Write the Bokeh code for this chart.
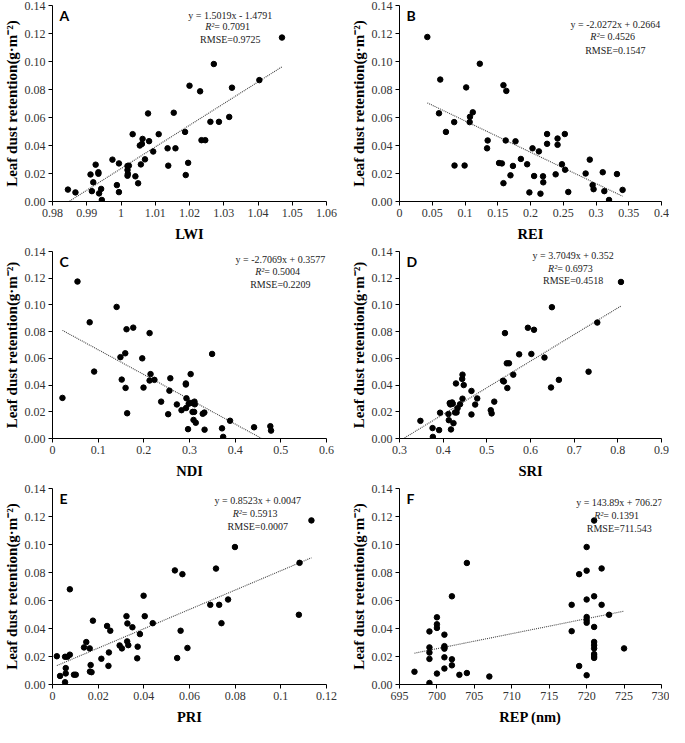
import numpy as np
from bokeh.plotting import figure
from bokeh.layouts import column, row
from bokeh.models import FixedTicker, Range1d, Label
from bokeh.embed import file_html
from bokeh.resources import INLINE

# ---------------- data ----------------
Y_TICKS = [0.0, 0.02, 0.04, 0.06, 0.08, 0.10, 0.12, 0.14]
Y_LABELS = ["0.00", "0.02", "0.04", "0.06", "0.08", "0.10", "0.12", "0.14"]
Y_TITLE = "Leaf dust retention(g\u00b7m\u207b\u00b2)"

lwi_x = [0.9845, 0.9867, 0.9911, 0.9915, 0.9919, 0.9926, 0.9934, 0.9934, 0.9936, 0.9942,
         0.9944, 0.9975, 0.9988, 0.9994, 0.9994, 1.0019, 1.0023, 1.0019, 1.0020, 1.0019,
         1.0034, 1.0042, 1.0050, 1.0055, 1.0058, 1.0061, 1.0063, 1.0070, 1.0079, 1.0082,
         1.0094, 1.0110, 1.0136, 1.0138, 1.0154, 1.0159, 1.0187, 1.0189, 1.0196, 1.0200,
         1.0231, 1.0235, 1.0246, 1.0261, 1.0271, 1.0286, 1.0316, 1.0324, 1.0404, 1.0470]
lwi_y = [0.0085, 0.0065, 0.0193, 0.0074, 0.0137, 0.0263, 0.0209, 0.0198, 0.0058, 0.0090,
         0.0011, 0.0299, 0.0117, 0.0272, 0.0067, 0.0254, 0.0256, 0.0225, 0.0198, 0.0184,
         0.0481, 0.0180, 0.0130, 0.0400, 0.0265, 0.0411, 0.0447, 0.0301, 0.0629, 0.0431,
         0.0357, 0.0481, 0.0380, 0.0256, 0.0634, 0.0380, 0.0497, 0.0189, 0.0276, 0.0827,
         0.0787, 0.0438, 0.0438, 0.0569, 0.0982, 0.0569, 0.0604, 0.0813, 0.0867, 0.1171]
lwi_ticks = [0.98, 0.99, 1.0, 1.01, 1.02, 1.03, 1.04, 1.05, 1.06]
lwi_labels = ["0.98", "0.99", "1", "1.01", "1.02", "1.03", "1.04", "1.05", "1.06"]

rei_x = [0.0425, 0.0622, 0.0603, 0.0709, 0.0835, 0.0840, 0.1018, 0.0994, 0.1076, 0.1071,
         0.1119, 0.1226, 0.1337, 0.1346, 0.1520, 0.1563, 0.1587, 0.1587, 0.1631, 0.1621,
         0.1694, 0.1732, 0.1771, 0.1853, 0.1949, 0.1983, 0.2031, 0.2055, 0.2128, 0.2152,
         0.2191, 0.2195, 0.2253, 0.2253, 0.2384, 0.2413, 0.2413, 0.2480, 0.2524, 0.2528,
         0.2577, 0.2842, 0.2905, 0.2948, 0.2963, 0.3103, 0.3127, 0.3199, 0.3320, 0.3406]
rei_y = [0.1175, 0.0871, 0.0630, 0.0497, 0.0567, 0.0257, 0.0815, 0.0257, 0.0605, 0.0567,
         0.0637, 0.0984, 0.0380, 0.0436, 0.0275, 0.0272, 0.0131, 0.0831, 0.0790, 0.0436,
         0.0187, 0.0254, 0.0430, 0.0304, 0.0266, 0.0065, 0.0380, 0.0182, 0.0358, 0.0056,
         0.0180, 0.0137, 0.0482, 0.0412, 0.0194, 0.0450, 0.0405, 0.0266, 0.0482, 0.0227,
         0.0068, 0.0200, 0.0299, 0.0117, 0.0088, 0.0209, 0.0074, 0.0011, 0.0196, 0.0083]
rei_ticks = [0.0, 0.05, 0.1, 0.15, 0.2, 0.25, 0.3, 0.35, 0.4]
rei_labels = ["0", "0.05", "0.1", "0.15", "0.2", "0.25", "0.3", "0.35", "0.4"]

ndi_x = [0.0218, 0.0547, 0.0814, 0.0912, 0.1404, 0.1488, 0.1516, 0.1593, 0.1600, 0.1621,
         0.1635, 0.1768, 0.1965, 0.1993, 0.2126, 0.2126, 0.2147, 0.2232, 0.2379, 0.2580,
         0.2560, 0.2533, 0.2723, 0.2825, 0.2920, 0.2920, 0.2933, 0.2925, 0.2968, 0.2982,
         0.3025, 0.3011, 0.3081, 0.3109, 0.3116, 0.3067, 0.3102, 0.3088, 0.3137, 0.3290,
         0.3325, 0.3330, 0.3495, 0.3712, 0.3737, 0.3888, 0.4414, 0.4770, 0.4786]
ndi_y = [0.0304, 0.1175, 0.0870, 0.0501, 0.0985, 0.0609, 0.0441, 0.0638, 0.0379, 0.0818,
         0.0189, 0.0830, 0.0600, 0.0381, 0.0789, 0.0434, 0.0482, 0.0439, 0.0276, 0.0451,
         0.0358, 0.0182, 0.0255, 0.0212, 0.0412, 0.0404, 0.0301, 0.0228, 0.0070, 0.0260,
         0.0482, 0.0266, 0.0264, 0.0276, 0.0256, 0.0199, 0.0199, 0.0139, 0.0118, 0.0185,
         0.0194, 0.0066, 0.0633, 0.0076, 0.0012, 0.0133, 0.0084, 0.0092, 0.0059]
ndi_ticks = [0.0, 0.1, 0.2, 0.3, 0.4, 0.5, 0.6]
ndi_labels = ["0", "0.1", "0.2", "0.3", "0.4", "0.5", "0.6"]

sri_x = [0.3479, 0.3757, 0.3764, 0.3907, 0.3929, 0.4121, 0.4129, 0.4150, 0.4165, 0.4179,
         0.4205, 0.4220, 0.4236, 0.4271, 0.4307, 0.4293, 0.4329, 0.4386, 0.4443, 0.4436,
         0.4471, 0.4443, 0.4648, 0.4648, 0.4780, 0.4733, 0.5090, 0.5110, 0.5170, 0.5370,
         0.5390, 0.5457, 0.5507, 0.5470, 0.5605, 0.5415, 0.5740, 0.5940, 0.6020, 0.6080,
         0.6320, 0.6470, 0.6490, 0.6650, 0.7330, 0.7529, 0.8072]
sri_y = [0.0132, 0.0078, 0.0012, 0.0063, 0.0193, 0.0183, 0.0137, 0.0265, 0.0255, 0.0068,
         0.0270, 0.0260, 0.0115, 0.0195, 0.0195, 0.0412, 0.0227, 0.0256, 0.0478, 0.0446,
         0.0400, 0.0298, 0.0356, 0.0180, 0.0300, 0.0254, 0.0212, 0.0188, 0.0276, 0.0432,
         0.0427, 0.0563, 0.0563, 0.0378, 0.0478, 0.0789, 0.0630, 0.0829, 0.0633, 0.0814,
         0.0606, 0.0382, 0.0983, 0.0439, 0.0500, 0.0868, 0.1172]
sri_ticks = [0.3, 0.4, 0.5, 0.6, 0.7, 0.8, 0.9]
sri_labels = ["0.3", "0.4", "0.5", "0.6", "0.7", "0.8", "0.9"]

pri_x = [0.0019, 0.0033, 0.0055, 0.0065, 0.0076, 0.0055, 0.0058, 0.0058, 0.0076, 0.0094,
         0.0102, 0.0138, 0.0148, 0.0163, 0.0167, 0.0164, 0.0171, 0.0177, 0.0214, 0.0239,
         0.0245, 0.0247, 0.0253, 0.0294, 0.0304, 0.0324, 0.0328, 0.0327, 0.0332, 0.0350,
         0.0371, 0.0373, 0.0383, 0.0399, 0.0404, 0.0439, 0.0536, 0.0546, 0.0561, 0.0569,
         0.0591, 0.0691, 0.0716, 0.0730, 0.0740, 0.0769, 0.0799, 0.1079, 0.1082, 0.1134]
pri_y = [0.0202, 0.0061, 0.0198, 0.0198, 0.0213, 0.0016, 0.0079, 0.0117, 0.0680, 0.0070,
         0.0070, 0.0265, 0.0303, 0.0258, 0.0139, 0.0092, 0.0088, 0.0456, 0.0184, 0.0418,
         0.0133, 0.0229, 0.0384, 0.0279, 0.0258, 0.0488, 0.0436, 0.0308, 0.0281, 0.0409,
         0.0187, 0.0270, 0.0360, 0.0634, 0.0488, 0.0438, 0.0815, 0.0189, 0.0384, 0.0788,
         0.0261, 0.0569, 0.0828, 0.0569, 0.0438, 0.0607, 0.0982, 0.0498, 0.0869, 0.1172]
pri_ticks = [0.0, 0.02, 0.04, 0.06, 0.08, 0.1, 0.12]
pri_labels = ["0", "0.02", "0.04", "0.06", "0.08", "0.1", "0.12"]

rep_x = [697, 699, 699, 699, 699, 699, 700, 700, 700, 700, 701, 701, 701, 701, 701, 701,
         702, 702, 702, 703, 704, 704, 707, 718, 718, 719, 719, 720, 720, 720, 720, 720,
         720, 720, 721, 721, 721, 721, 721, 721, 721, 721, 721, 722, 722, 723, 725]
rep_y = [0.0091, 0.0379, 0.0265, 0.0228, 0.0183, 0.0011, 0.0480, 0.0430, 0.0404, 0.0078,
         0.0356, 0.0274, 0.0265, 0.0256, 0.0194, 0.0114, 0.0630, 0.0180, 0.0137, 0.0069,
         0.0868, 0.0082, 0.0057, 0.0569, 0.0381, 0.0788, 0.0132, 0.0982, 0.0813, 0.0607,
         0.0482, 0.0459, 0.0441, 0.0066, 0.1171, 0.0630, 0.0411, 0.0304, 0.0281, 0.0258,
         0.0217, 0.0203, 0.0190, 0.0829, 0.0569, 0.0498, 0.0258]
rep_ticks = [695, 700, 705, 710, 715, 720, 725, 730]
rep_labels = ["695", "700", "705", "710", "715", "720", "725", "730"]

letters = ["A", "B", "C", "D", "E", "F"]
x_titles = ["LWI", "REI", "NDI", "SRI", "PRI", "REP (nm)"]
eq_lines = [
    ("y = 1.5019x - 1.4791", " = 0.7091", "RMSE=0.9725"),
    ("y = -2.0272x + 0.2664", " = 0.4526", "RMSE=0.1547"),
    ("y = -2.7069x + 0.3577", " = 0.5004", "RMSE=0.2209"),
    ("y = 3.7049x + 0.352", " = 0.6973", "RMSE=0.4518"),
    ("y = 0.8523x + 0.0047", " = 0.5913", "RMSE=0.0007"),
    ("y = 143.89x + 706.27", " = 0.1391", "RMSE=711.543"),
]
# trendline drawn back to the axis (Excel backward forecast) for panel D
trend_to_axis = [False, False, False, True, False, False]

# ---------------- layout / style ----------------
SERIF = "Liberation Serif"
LW, RW = 347, 322
BL = 47
ROWS = [(244, 5), (237, 7), (246, 7)]   # (figure height, top border)
BB = 38

# (equation centre: px left of frame right edge, line offsets from frame top in px)
eq_pos = [(98, [10, 22, 35]), (47, [19, 32, 46]), (47, [8, 21, 34]),
          (90, [4, 17, 30]), (70, [12, 26, 39]), (43, [14, 28, 41])]


def make_panel(i, xs, ys, ticks, labels, width, rowspec, br):
    height, bt = rowspec
    xr = (ticks[0], ticks[-1])
    p = figure(width=width, height=height, x_range=Range1d(*xr), y_range=Range1d(0, 0.14),
               output_backend="svg", toolbar_location=None,
               min_border_left=BL, min_border_right=br,
               min_border_top=bt, min_border_bottom=BB)
    p.xgrid.visible = False
    p.ygrid.visible = False
    p.outline_line_color = None
    p.background_fill_color = "white"
    p.border_fill_color = "white"

    frame_w = width - BL - br
    frame_h = height - bt - BB

    for ax, tk, lb in ((p.xaxis, ticks, labels), (p.yaxis, Y_TICKS, Y_LABELS)):
        ax.ticker = FixedTicker(ticks=tk)
        ax.major_label_overrides = {t: l for t, l in zip(tk, lb)}
        ax.major_label_text_font = SERIF
        ax.major_label_text_font_size = "12px"
        ax.major_label_text_color = "#333333"
        ax.major_label_standoff = 3
        ax.axis_line_color = "black"
        ax.axis_line_width = 1
        ax.major_tick_line_color = "black"
        ax.major_tick_in = 0
        ax.major_tick_out = 4
        ax.minor_tick_line_color = None
        ax.axis_label_text_font = SERIF
        ax.axis_label_text_font_style = "bold"
        ax.axis_label_text_color = "black"
    p.xaxis.axis_label = x_titles[i]
    p.xaxis.axis_label_text_font_size = "14.5px"
    p.xaxis.axis_label_standoff = 6
    p.yaxis.axis_label = Y_TITLE
    p.yaxis.axis_label_text_font_size = "15px"
    p.yaxis.axis_label_standoff = 2

    # least-squares trend line
    xa = np.array(xs, dtype=float)
    ya = np.array(ys, dtype=float)
    k, b = np.polyfit(xa, ya, 1)
    x0 = xr[0] if trend_to_axis[i] else xa.min()
    lx = np.array([x0, xa.max()])
    p.line(lx, k * lx + b, line_color="#444444", line_width=1.1, line_dash="1 1")

    p.scatter(xs, ys, size=5.5, color="black")

    span = xr[1] - xr[0]
    # panel letter
    p.add_layout(Label(x=xr[0], y=0.14 * (1 - 2 / frame_h), x_offset=7,
                       text=letters[i], text_font="Lato", text_font_style="bold",
                       text_font_size="14px", text_baseline="top", text_align="left",
                       text_color="black"))

    off_r, offs = eq_pos[i]
    cx = xr[1] - off_r / frame_w * span
    l1, l2, l3 = eq_lines[i]
    ycoords = [0.14 * (1 - o / frame_h) for o in offs]
    common = dict(text_font=SERIF, text_font_size="10px", text_baseline="middle",
                  text_color="#222222")
    p.add_layout(Label(x=cx, y=ycoords[0], text=l1, text_align="center", **common))
    p.add_layout(Label(x=cx, y=ycoords[1], x_offset=-16, text="R\u00b2",
                       text_align="right", text_font_style="italic", **common))
    p.add_layout(Label(x=cx, y=ycoords[1], x_offset=-16, text=l2,
                       text_align="left", **common))
    p.add_layout(Label(x=cx, y=ycoords[2], text=l3, text_align="center", **common))
    return p


pA = make_panel(0, lwi_x, lwi_y, lwi_ticks, lwi_labels, LW, ROWS[0], 21)
pB = make_panel(1, rei_x, rei_y, rei_ticks, rei_labels, RW, ROWS[0], 8)
pC = make_panel(2, ndi_x, ndi_y, ndi_ticks, ndi_labels, LW, ROWS[1], 21)
pD = make_panel(3, sri_x, sri_y, sri_ticks, sri_labels, RW, ROWS[1], 8)
pE = make_panel(4, pri_x, pri_y, pri_ticks, pri_labels, LW, ROWS[2], 21)
pF = make_panel(5, rep_x, rep_y, rep_ticks, rep_labels, RW, ROWS[2], 8)

layout = column(row(pA, pB), row(pC, pD), row(pE, pF))
open("out.html", "w").write(file_html(layout, INLINE))
